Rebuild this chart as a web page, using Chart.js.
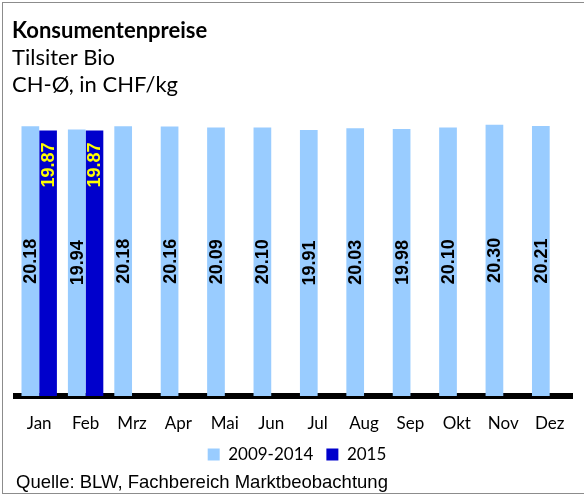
<!DOCTYPE html>
<html lang="de">
<head>
<meta charset="utf-8">
<title>Konsumentenpreise Tilsiter Bio</title>
<script src="https://cdn.jsdelivr.net/npm/chart.js@4.4.1/dist/chart.umd.min.js"></script>
<style>
  html, body { margin: 0; padding: 0; background: #fff; overflow: hidden; }
  #wrap { position: relative; width: 584px; height: 498px; }
  #frame {
    position: absolute; left: 2px; top: 2px; width: 600px; height: 492px;
    border: 1px solid #8c8c8c; box-sizing: border-box; pointer-events: none;
  }
  #source {
    position: absolute; left: 16px; top: 471px;
    font: 18.5px "Liberation Sans", Arial, sans-serif; color: #000; white-space: nowrap;
  }
</style>
</head>
<body>
<div id="wrap">
  <canvas id="chart-tilsiter" width="584" height="498"></canvas>
  <div id="frame"></div>
  <div id="source">Quelle: BLW, Fachbereich Marktbeobachtung</div>
</div>
<script>
// Monthly consumer prices, CHF/kg
const months = ['Jan', 'Feb', 'Mrz', 'Apr', 'Mai', 'Jun', 'Jul', 'Aug', 'Sep', 'Okt', 'Nov', 'Dez'];
const avg2009to2014 = [20.18, 19.94, 20.18, 20.16, 20.09, 20.10, 19.91, 20.03, 19.98, 20.10, 20.30, 20.21];
const values2015 = [19.87, 19.87, null, null, null, null, null, null, null, null, null, null];
const seriesNames = ['2009-2014', '2015'];

(function() {
  'use strict';

  const COLORS = {
    light: '#99ccff',
    dark: '#0000cc',
    labelDark: '#000000',
    labelLight: '#ffff00'
  };

  const FONT = '"Lato", "Open Sans", sans-serif';

  /**
   * Writes the values vertically into the bars:
   * centred for the long-term average, near the top for 2015
   */
  const barValueLabels = {
    id: 'barValueLabels',
    afterDatasetsDraw(chart) {
      const ctx = chart.ctx;
      ctx.save();
      ctx.font = 'bold 18px "Liberation Sans", Arial, sans-serif';
      ctx.textBaseline = 'middle';
      chart.data.datasets.forEach((ds, di) => {
        const meta = chart.getDatasetMeta(di);
        meta.data.forEach((bar, i) => {
          const v = ds.data[i];
          if (v === null || v === undefined) return;
          const text = v.toFixed(2);
          ctx.save();
          if (di === 0) {
            ctx.translate(bar.x, (bar.y + bar.base) / 2);
            ctx.textAlign = 'center';
            ctx.fillStyle = COLORS.labelDark;
          } else {
            ctx.translate(bar.x, bar.y + 12);
            ctx.textAlign = 'right';
            ctx.fillStyle = COLORS.labelLight;
          }
          ctx.rotate(-Math.PI / 2);
          ctx.fillText(text, 0, 1);
          ctx.restore();
        });
      });
      ctx.restore();
    }
  };

  function initChart() {
    const ctx = document.getElementById('chart-tilsiter');
    if (!ctx) return;

    new Chart(ctx, {
      type: 'bar',
      data: {
        labels: months,
        datasets: [
          {
            label: seriesNames[0],
            data: avg2009to2014,
            backgroundColor: COLORS.light,
            categoryPercentage: 0.763,
            barPercentage: 1.0
          },
          {
            label: seriesNames[1],
            data: values2015,
            backgroundColor: COLORS.dark,
            categoryPercentage: 0.763,
            barPercentage: 1.0
          }
        ]
      },
      options: {
        responsive: false,
        animation: false,
        layout: { padding: { left: 12, right: 2, top: 0, bottom: 25 } },
        plugins: {
          title: {
            display: true,
            text: 'Konsumentenpreise',
            align: 'start',
            color: '#000',
            font: { family: FONT, size: 22, weight: 'bold', lineHeight: '27px' },
            padding: { top: 17, bottom: 0 }
          },
          subtitle: {
            display: true,
            text: ['Tilsiter Bio', 'CH-\u00D8, in CHF/kg'],
            align: 'start',
            color: '#000',
            font: { family: FONT, size: 22, lineHeight: '27px' },
            padding: { top: 0, bottom: 4 }
          },
          legend: {
            position: 'bottom',
            labels: {
              color: '#000',
              font: { family: FONT, size: 17 },
              boxWidth: 12,
              boxHeight: 12,
              padding: 13
            }
          },
          tooltip: { enabled: false }
        },
        scales: {
          x: {
            grid: { display: true, drawOnChartArea: false, drawTicks: false, color: 'rgba(0,0,0,0)' },
            border: { display: true, color: '#000', width: 6 },
            ticks: {
              color: '#000',
              font: { family: FONT, size: 17, lineHeight: 1 },
              padding: 19.5
            },
            // tick padding is counted twice in the fit; trim the space below the labels
            afterFit(scale) { scale.height = 37; }
          },
          y: {
            display: true,
            min: 0,
            max: 22,
            grid: { display: false },
            border: { display: false },
            ticks: { display: false },
            afterFit(scale) { scale.width = 4; }
          }
        }
      },
      plugins: [barValueLabels]
    });
  }

  if (document.readyState === 'loading') {
    document.addEventListener('DOMContentLoaded', initChart);
  } else {
    initChart();
  }
})();
</script>
</body>
</html>
